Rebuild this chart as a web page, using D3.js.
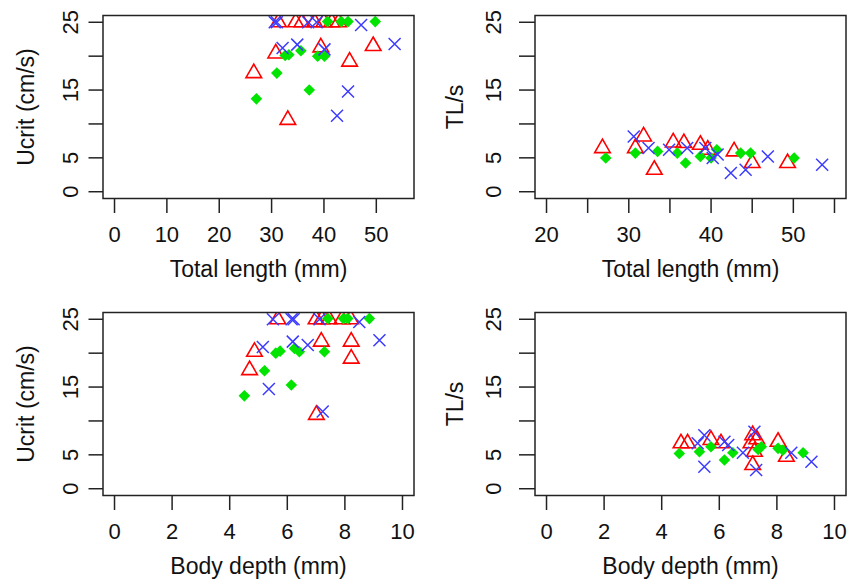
<!DOCTYPE html>
<html><head><meta charset="utf-8">
<script src="https://cdn.jsdelivr.net/npm/d3@7"></script>
<style>
body{margin:0;background:#fff}
text{font-family:"Liberation Sans",Arial,Helvetica,sans-serif;fill:#111}
</style>
</head><body>
<svg id="chart" width="854" height="584"></svg>
<script>
// ---------- tick values / labels ----------
const yTicks = [0, 5, 10, 15, 20, 25];
const yTickLabels = ["0", "5", "", "15", "", "25"];
const tlTicksA = [0, 10, 20, 30, 40, 50];
const tlLabelsA = ["0", "10", "20", "30", "40", "50"];
const tlTicksB = [20, 25, 30, 35, 40, 45, 50, 55];
const tlLabelsB = ["20", "", "30", "", "40", "", "50", ""];
const bdTicks = [0, 2, 4, 6, 8, 10];
const bdLabels = ["0", "2", "4", "6", "8", "10"];

// ---------- Panel 1: Total length vs Ucrit ----------
const p1Tri = [[26.6,17.5],[30.8,20.4],[33.1,10.6],[39.4,21.3],[44.9,19.2],[49.4,21.5],
  [31.3,25],[34.6,25],[35.8,25],[38.2,25],[40.0,25],[41.5,25],[42.8,25]];
const p1Dia = [[27.1,13.7],[31.0,17.5],[32.6,20.1],[33.3,20.2],[35.6,20.8],[37.2,15.0],[38.8,20.0],[40.1,20.0],
  [40.7,25.1],[43.3,25.1],[44.6,25.1],[49.8,25.1]];
const p1X = [[32.1,21.2],[34.9,21.7],[40.1,21.0],[53.5,21.8],[44.6,14.8],[42.5,11.2],
  [30.6,25],[31.0,25],[37.0,25],[38.6,25],[47.1,24.6]];

// ---------- Panel 2: Total length vs TL/s ----------
const p2Tri = [[26.8,6.44],[30.8,6.44],[31.8,8.16],[33.1,3.24],[35.4,7.27],[36.7,7.18],[38.7,6.93],
  [39.6,6.2],[42.8,5.95],[45.0,4.23],[49.3,4.23]];
const p2Dia = [[27.2,4.97],[30.8,5.7],[33.5,5.95],[35.9,5.7],[36.9,4.23],[38.7,5.21],[40.0,4.97],
  [40.7,6.19],[43.6,5.7],[44.8,5.7],[50.1,4.97]];
const p2X = [[30.6,8.16],[32.4,6.44],[34.9,6.19],[37.1,6.44],[39.3,6.44],[40.2,4.97],[40.8,5.5],
  [42.4,2.75],[44.2,3.24],[46.9,5.21],[53.5,3.98]];

// ---------- Panel 3: Body depth vs Ucrit ----------
const p3Tri = [[4.69,17.5],[4.86,20.2],[7.01,10.9],[7.18,21.7],[8.22,21.7],[8.22,19.2],
  [5.67,25],[7.0,25],[7.2,25],[7.45,25],[7.9,25],[8.2,25]];
const p3Dia = [[4.51,13.7],[5.21,17.4],[5.6,20.0],[5.75,20.3],[6.14,15.3],[6.25,20.7],[6.42,20.2],[7.29,20.2],
  [7.41,25.1],[7.95,25.1],[8.1,25.1],[8.85,25.1]];
const p3X = [[5.15,20.9],[5.36,14.7],[6.19,21.7],[6.71,21.2],[7.23,11.4],[9.2,21.9],
  [5.5,25],[6.15,25],[6.22,25],[7.12,25],[8.5,24.6]];

// ---------- Panel 4: Body depth vs TL/s ----------
const p4Tri = [[4.67,6.7],[4.9,6.7],[5.71,7.2],[6.06,6.7],[7.16,7.9],[7.1,6.7],[7.22,5.46],
  [7.16,3.5],[8.04,6.93],[8.33,4.72],[7.3,7.3]];
const p4Dia = [[4.61,5.2],[5.31,5.46],[5.71,6.2],[6.18,4.23],[6.47,5.3],[7.46,6.2],[7.35,5.8],
  [8.04,5.96],[8.21,5.7],[8.91,5.3]];
const p4X = [[5.25,6.7],[5.48,7.9],[5.48,3.25],[6.18,6.93],[6.31,6.44],[6.82,5.3],[7.22,8.4],
  [7.28,2.76],[8.5,5.3],[9.2,3.98]];

// ---------- layout ----------
const svg = d3.select("#chart");
const cols = [
  {x0: 103, x1: 414, tickLabX: 25, titleX: 69},
  {x0: 535, x1: 846, tickLabX: 34, titleX: 72}
];
const rows = [{y0: 15.5, y1: 198.5}, {y0: 312.5, y1: 495.5}];

const panels = [
  {c:0, r:0, xDom:[-2.2,57.2], xt:tlTicksA, xl:tlLabelsA, xTitle:"Total length (mm)", yTitle:"Ucrit (cm/s)", tri:p1Tri, dia:p1Dia, xs:p1X},
  {c:1, r:0, xDom:[18.6,56.4], xt:tlTicksB, xl:tlLabelsB, xTitle:"Total length (mm)", yTitle:"TL/s", tri:p2Tri, dia:p2Dia, xs:p2X},
  {c:0, r:1, xDom:[-0.4,10.4], xt:bdTicks, xl:bdLabels, xTitle:"Body depth (mm)", yTitle:"Ucrit (cm/s)", tri:p3Tri, dia:p3Dia, xs:p3X},
  {c:1, r:1, xDom:[-0.4,10.4], xt:bdTicks, xl:bdLabels, xTitle:"Body depth (mm)", yTitle:"TL/s", tri:p4Tri, dia:p4Dia, xs:p4X}
];

const FS = 22, FT = 23, TICK = 14.5;
const s = 5.8;
const triPath = `M0,${-1.555*s}L${1.347*s},${0.778*s}L${-1.347*s},${0.778*s}Z`;
const diaPath = "M0,-5.8L5.8,0L0,5.8L-5.8,0Z";
const xPath = "M-6,-6L6,6M-6,6L6,-6";

panels.forEach((p, i) => {
  const C = cols[p.c], R = rows[p.r];
  const x = d3.scaleLinear().domain(p.xDom).range([C.x0, C.x1]);
  const y = d3.scaleLinear().domain([-1, 26]).range([R.y1, R.y0]);
  const g = svg.append("g");

  const cid = "clip" + i;
  svg.append("clipPath").attr("id", cid).append("rect")
    .attr("x", C.x0).attr("y", R.y0).attr("width", C.x1 - C.x0).attr("height", R.y1 - R.y0);

  const pts = g.append("g").attr("clip-path", `url(#${cid})`);
  pts.selectAll(".tri").data(p.tri).join("path")
    .attr("d", triPath).attr("transform", d => `translate(${x(d[0])},${y(d[1])})`)
    .attr("fill", "none").attr("stroke", "#ff0000").attr("stroke-width", 1.6);
  pts.selectAll(".dia").data(p.dia).join("path")
    .attr("d", diaPath).attr("transform", d => `translate(${x(d[0])},${y(d[1])})`)
    .attr("fill", "#00e400");
  pts.selectAll(".xx").data(p.xs).join("path")
    .attr("d", xPath).attr("transform", d => `translate(${x(d[0])},${y(d[1])})`)
    .attr("fill", "none").attr("stroke", "#3c3cff").attr("stroke-width", 1.5);

  g.append("rect").attr("x", C.x0).attr("y", R.y0).attr("width", C.x1 - C.x0).attr("height", R.y1 - R.y0)
    .attr("fill", "none").attr("stroke", "#222").attr("stroke-width", 1.5);

  g.selectAll(".xt").data(p.xt).join("line")
    .attr("x1", d => x(d)).attr("x2", d => x(d))
    .attr("y1", R.y1).attr("y2", R.y1 + TICK)
    .attr("stroke", "#222").attr("stroke-width", 1.5);
  g.selectAll(".xl").data(p.xt).join("text")
    .attr("x", d => x(d)).attr("y", R.y1 + 43)
    .attr("text-anchor", "middle").attr("font-size", FS)
    .text((d, j) => p.xl[j]);
  g.append("text").attr("x", (C.x0 + C.x1) / 2).attr("y", R.y1 + 78)
    .attr("text-anchor", "middle").attr("font-size", FT).text(p.xTitle);

  g.selectAll(".yt").data(yTicks).join("line")
    .attr("x1", C.x0 - TICK - (p.c ? 1.5 : 0)).attr("x2", C.x0)
    .attr("y1", d => y(d)).attr("y2", d => y(d))
    .attr("stroke", "#222").attr("stroke-width", 1.5);
  g.selectAll(".yl").data(yTicks).join("text")
    .attr("transform", d => `translate(${C.x0 - C.tickLabX},${y(d)}) rotate(-90)`)
    .attr("text-anchor", "middle").attr("font-size", FS)
    .text((d, j) => yTickLabels[j]);
  g.append("text")
    .attr("transform", `translate(${C.x0 - C.titleX},${(R.y0 + R.y1) / 2}) rotate(-90)`)
    .attr("text-anchor", "middle").attr("font-size", FT).text(p.yTitle);
});
</script>
</body></html>
